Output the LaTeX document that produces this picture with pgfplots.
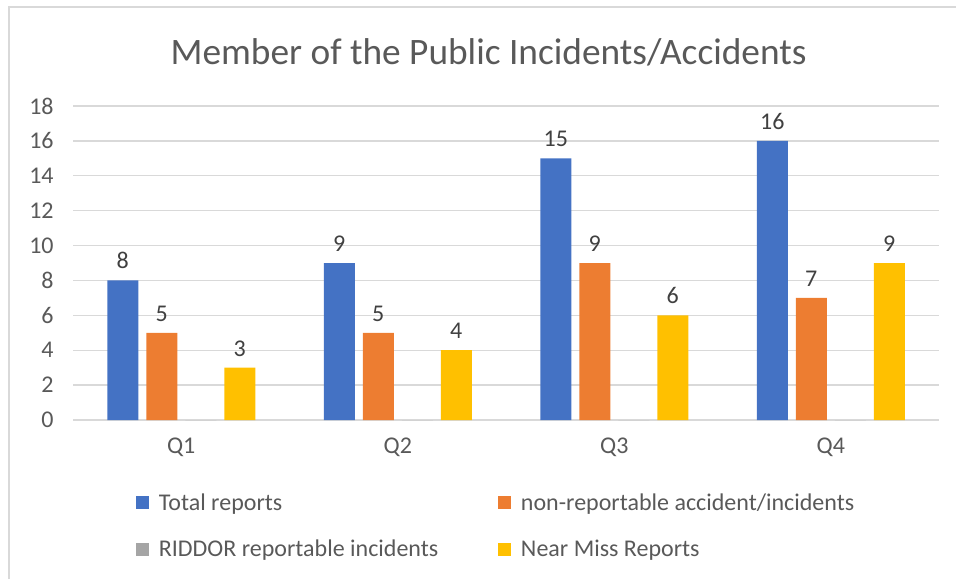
\documentclass[border=0pt]{standalone}
\usepackage{pgfplots}
\pgfplotsset{compat=1.18}
\usepackage{fontspec}
\setmainfont{Carlito}
\definecolor{cblue}{HTML}{4472C4}
\definecolor{corange}{HTML}{ED7D31}
\definecolor{cgray}{HTML}{A5A5A5}
\definecolor{cyellow}{HTML}{FFC000}
\definecolor{txt}{HTML}{595959}
\definecolor{lbl}{HTML}{404040}
\definecolor{gridc}{HTML}{D9D9D9}
\begin{document}
\begin{tikzpicture}
\path[use as bounding box] (0,0) rectangle (717pt,434.25pt);
\draw[gridc, line width=1.2pt] (6.75pt,0) -- (6.75pt,429pt) -- (717pt,429pt);
\node[text=txt, font=\fontsize{28}{33}\selectfont] at (366.4pt,395.25pt) {Member of the Public Incidents/Accidents};
\begin{axis}[
  at={(54.75pt,119.25pt)}, anchor=south west,
  scale only axis, width=649.5pt, height=235.5pt,
  ybar=6pt, bar width=23.25pt,
  xmin=-0.5, xmax=3.5, ymin=0, ymax=18,
  xtick={0,1,2,3}, xticklabels={Q1,Q2,Q3,Q4},
  ytick={0,2,...,18},
  ymajorgrids=true, xmajorgrids=false,
  grid style={draw=gridc, line width=1pt},
  axis x line*=bottom, axis y line*=left,
  x axis line style={draw=gridc, line width=1pt, -},
  y axis line style={draw=none},
  tick style={draw=none},
  major tick length=0pt,
  /pgf/number format/assume math mode=true,
  tick label style={font=\fontsize{18}{21}\selectfont, text=txt},
  yticklabel style={xshift=-11pt},
  xticklabel style={yshift=-10pt},
  nodes near coords style={font=\fontsize{18}{21}\selectfont, text=lbl, yshift=5pt},
  legend columns=2,
  legend cell align=left,
  legend style={draw=none, fill=none, at={(0.0727,-0.225)}, anchor=north west,
    font=\fontsize{18}{21}\selectfont, text=txt, inner sep=0pt,
    /tikz/every odd column/.append style={column sep=5.25pt},
    /tikz/every even column/.append style={column sep=43pt},
    row sep=17pt},
  legend image code/.code={\fill[#1] (0pt,-4.875pt) rectangle (9.75pt,4.875pt);},
  clip=false,
]
\addplot[fill=cblue, draw=none, nodes near coords] coordinates {(0,8) (1,9) (2,15) (3,16)};
\addplot[fill=corange, draw=none, nodes near coords] coordinates {(0,5) (1,5) (2,9) (3,7)};
\addplot[fill=cgray, draw=none] coordinates {(0,0) (1,0) (2,0) (3,0)};
\addplot[fill=cyellow, draw=none, nodes near coords] coordinates {(0,3) (1,4) (2,6) (3,9)};
\legend{Total reports, non-reportable accident/incidents, RIDDOR reportable incidents, Near Miss Reports}
\end{axis}
\end{tikzpicture}
\end{document}
